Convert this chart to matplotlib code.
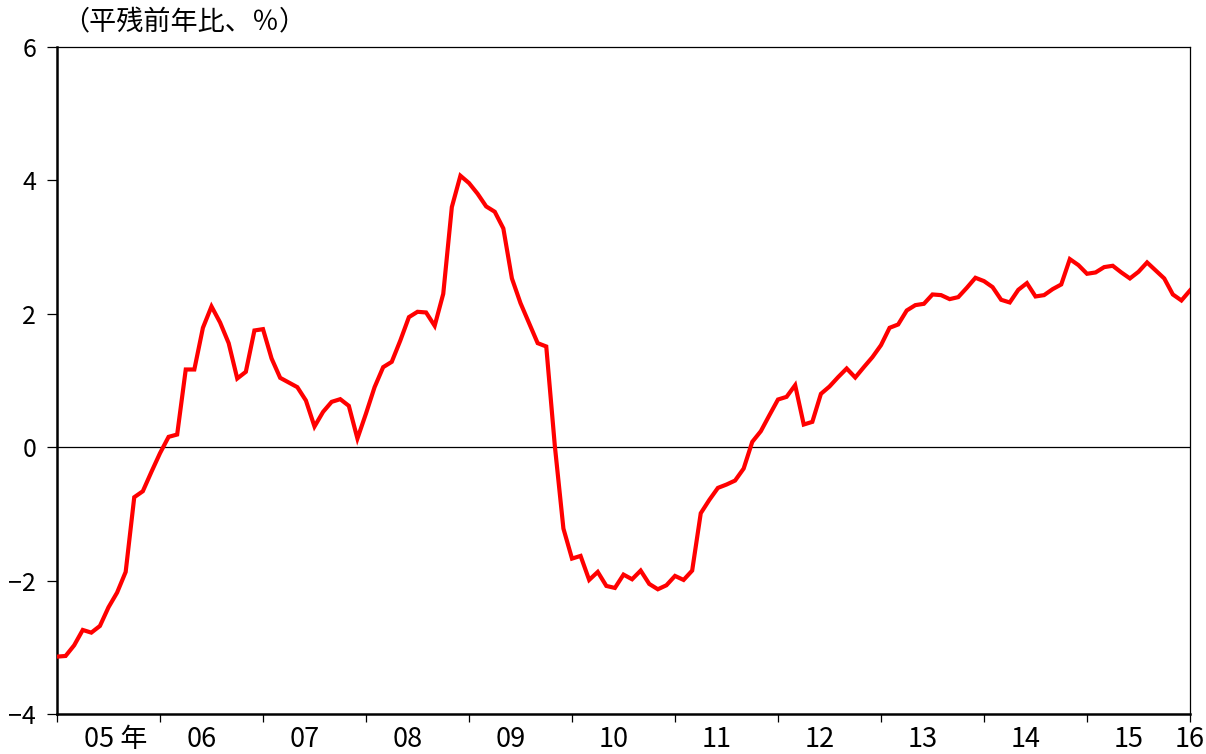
import matplotlib
matplotlib.use("Agg")
import matplotlib.pyplot as plt
import matplotlib.transforms as mtransforms
import numpy as np

plt.rcParams['font.family'] = ['Noto Sans CJK JP', 'DejaVu Sans']

# Monthly series, 2005-01 .. 2016-01 (year-on-year %, average balance)
values = [
    -3.14, -3.13, -2.97, -2.74, -2.78, -2.68, -2.40, -2.18, -1.87, -0.75, -0.66, -0.37,   # 2005
    -0.09, 0.155, 0.19, 1.165, 1.165, 1.79, 2.11, 1.87, 1.56, 1.03, 1.13, 1.75,          # 2006
    1.77, 1.33, 1.04, 0.97, 0.90, 0.70, 0.31, 0.53, 0.68, 0.72, 0.62, 0.13,               # 2007
    0.505, 0.90, 1.20, 1.28, 1.60, 1.95, 2.03, 2.02, 1.82, 2.30, 3.60, 4.07,              # 2008
    3.96, 3.80, 3.61, 3.53, 3.28, 2.53, 2.16, 1.86, 1.56, 1.51, 0.02, -1.22,              # 2009
    -1.67, -1.63, -1.99, -1.87, -2.08, -2.11, -1.91, -1.98, -1.85, -2.05, -2.13, -2.07,   # 2010
    -1.93, -1.99, -1.85, -0.99, -0.79, -0.61, -0.56, -0.50, -0.32, 0.08, 0.24, 0.48,      # 2011
    0.715, 0.755, 0.93, 0.34, 0.38, 0.80, 0.91, 1.05, 1.18, 1.045, 1.20, 1.35,            # 2012
    1.53, 1.79, 1.84, 2.05, 2.13, 2.15, 2.29, 2.28, 2.22, 2.25, 2.39, 2.54,               # 2013
    2.49, 2.40, 2.21, 2.17, 2.36, 2.46, 2.26, 2.28, 2.37, 2.44, 2.82, 2.73,               # 2014
    2.60, 2.62, 2.70, 2.72, 2.62, 2.53, 2.63, 2.77, 2.65, 2.53, 2.29, 2.20,               # 2015
    2.35,                                                                                  # 2016
]
year_labels = ["05 年", "06", "07", "08", "09", "10", "11", "12", "13", "14", "15", "16"]
y_ticks = [-4, -2, 0, 2, 4, 6]
title_text = "（平残前年比、％）"

months = np.arange(len(values))

fig = plt.figure(figsize=(12.06, 7.54), dpi=100)
ax = fig.add_axes([57/1206, 1 - 714/754, (1190 - 57)/1206, (714 - 47)/754])

ax.plot(months, values, color='#ff0000', lw=3.0, solid_joinstyle='miter', zorder=3)
ax.axhline(0, color='black', lw=0.9, zorder=2)

ax.set_xlim(0, len(values) - 1)
ax.set_ylim(-4, 6)
ax.set_yticks(y_ticks)
ax.set_yticklabels([str(v).replace('-', '\u2212') for v in y_ticks])
ax.tick_params(axis='y', length=7, width=0.9, pad=8, labelsize=18, direction='out')

year_ticks = np.arange(0, len(values), 12)
ax.set_xticks(year_ticks)
ax.set_xticklabels([])
ax.tick_params(axis='x', length=6, width=0.9, direction='out')

for sp in ['left', 'bottom']:
    ax.spines[sp].set_linewidth(1.8)
for sp in ['top', 'right']:
    ax.spines[sp].set_linewidth(0.9)

trans = mtransforms.blended_transform_factory(ax.transData, ax.transAxes)
label_y = -(747 - 714) / 667
for k, lab in enumerate(year_labels):
    if k < len(year_labels) - 1:
        xpos = year_ticks[k] + 3.1
    else:
        xpos = year_ticks[-1] - 1.8
    ax.text(xpos, label_y, lab, transform=trans, ha='left', va='baseline',
            fontsize=19.5, clip_on=False)

fig.text(62/1206, 1 - 23/754, title_text, ha='left', va='center', fontsize=19.5)

fig.savefig("out.png", dpi=100, facecolor='white')
